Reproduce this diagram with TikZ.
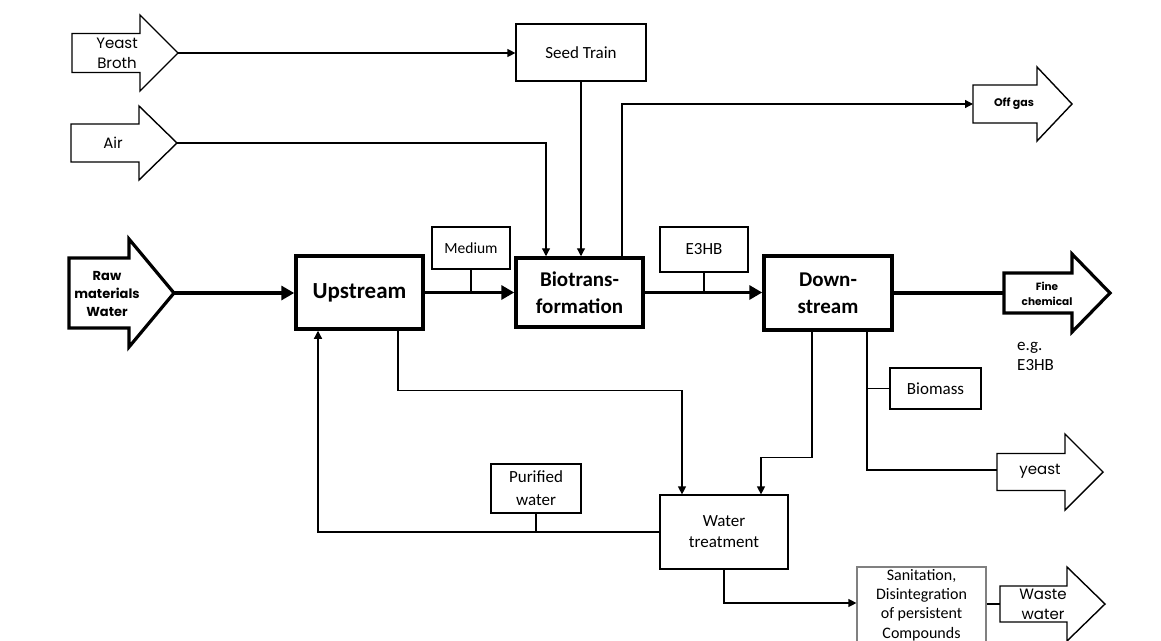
\documentclass[tikz,border=0pt]{standalone}
\usepackage{fontspec}
\setmainfont{Carlito}
\newfontfamily\gothic{Poppins}
\usetikzlibrary{arrows.meta}
\newcommand\blockarrow[8]{% name, style, xl, xh, xt, yc, bodyhalf, headhalf
  \draw[#2] (#3,#6-#7) -- (#4,#6-#7) -- (#4,#6-#8) -- (#5,#6) -- (#4,#6+#8) -- (#4,#6+#7) -- (#3,#6+#7) -- cycle;
  \coordinate (#1-w) at (#3,#6);
  \coordinate (#1-t) at (#5,#6);}
\begin{document}
\begin{tikzpicture}[x=1pt,y=-1pt,
  ln/.style={line width=1.2pt},
  lnthick/.style={line width=3.5pt},
  arr/.style={ln,-{Triangle[length=8pt,width=8pt]}},
  arrthick/.style={lnthick,-{Triangle[length=13pt,width=14pt]}},
  shp/.style={line width=1.4pt, line join=miter},
  shpthick/.style={line width=3.2pt, line join=miter},
  box/.style={draw, line width=1.2pt, inner sep=0pt, align=center, font=\fontsize{17}{21}\selectfont},
  bigbox/.style={draw, line width=3.5pt, inner sep=0pt, align=center, font=\bfseries\fontsize{21}{27}\selectfont},
  gtxt/.style={inner sep=0pt, align=center, font=\gothic\fontsize{15}{20}\selectfont},
  gbold/.style={inner sep=0pt, align=center, font=\gothic\bfseries\fontsize{13}{18}\selectfont},
]
\useasboundingbox (0,0) rectangle (1161,640);

% block arrows
\blockarrow{yb}{shp}{72}{140}{178}{53}{19.5}{38}
\blockarrow{air}{shp}{71}{139}{177}{143}{19}{37}
\blockarrow{off}{shp}{973}{1037}{1072}{104}{19}{37}
\blockarrow{raw}{shpthick}{69}{129}{174}{293}{35}{54}
\blockarrow{fc}{shpthick}{1004}{1072}{1110}{293}{20}{39}
\blockarrow{ye}{shp}{997}{1065}{1103}{472}{18.5}{38}
\blockarrow{ww}{shp}{1000}{1067}{1105}{604}{18}{37}

\node[gtxt] (ybt) at (117,53) {Yeast\\Broth};
\node[gtxt] (airt) at (113,143) {Air};
\node[gbold, font=\gothic\bfseries\fontsize{11}{14}\selectfont] (offt) at (1014,104) {Off gas};
\node[gbold] (rawt) at (107,294) {Raw\\materials\\Water};
\node[gbold, font=\gothic\bfseries\fontsize{10.5}{15}\selectfont] (fct) at (1047,294) {Fine\\chemical};
\node[gtxt] (yet) at (1040,471) {yeast};
\node[gtxt] (wwt) at (1043,604) {Waste\\water};

% boxes
\node[box, minimum width=130pt, minimum height=57pt] (seed) at (581,52.5) {Seed Train};
\node[bigbox, minimum width=127pt, minimum height=73pt, font=\bfseries\fontsize{23}{27}\selectfont] (up) at (359.5,292.5) {Upstream};
\node[box, minimum width=78pt, minimum height=42pt, font=\fontsize{15.5}{19}\selectfont] (med) at (471,248) {Medium};
\node[bigbox, minimum width=127pt, minimum height=69pt] (bio) at (579.5,292.5) {Biotrans-\\formation};
\node[box, minimum width=88pt, minimum height=45pt] (e3) at (704,249.5) {E3HB};
\node[bigbox, minimum width=128pt, minimum height=74pt] (down) at (828,293) {Down-\\stream};
\node[box, minimum width=91pt, minimum height=41pt] (bm) at (935.5,388.5) {Biomass};
\node[box, minimum width=90pt, minimum height=49pt, font=\fontsize{17}{23}\selectfont] (pur) at (536,488.5) {Purified\\water};
\node[box, minimum width=128pt, minimum height=74pt] (wt) at (724,532) {Water\\treatment};
\node[box, draw=black!50, minimum width=129pt, minimum height=76pt, font=\fontsize{16}{19.3}\selectfont] (san) at (921.5,605) {Sanitation,\\Disintegration\\of persistent\\Compounds};
\node[inner sep=0pt, align=left, anchor=west, font=\fontsize{17}{20}\selectfont] (eg) at (1017,356) {e.g.\\E3HB};

% connectors
\draw[arr] (yb-t) -- (seed.west |- yb-t);
\draw[arr] (air-t) -| ([xshift=-33.5pt]bio.north);
\draw[arr] (seed.south) -- (seed.south |- bio.north);
\draw[arr] ([xshift=42.5pt]bio.north) |- (off-w);
\draw[arrthick] (raw-t) -- (up.west |- raw-t);
\draw[arrthick] (up.east) -- (bio.west);
\draw[ln] (med.south) -- (med.south |- up.east);
\draw[arrthick] (bio.east) -- (down.west |- bio.east);
\draw[ln] (e3.south) -- (e3.south |- bio.east);
\draw[lnthick] (down.east |- fc-w) -- (fc-w);
\draw[arr] ([xshift=38.5pt]up.south) -- ++(0,60) -| ([xshift=-42pt]wt.north);
\draw[arr] ([xshift=-16pt]down.south) -- ++(0,126) -| ([xshift=37pt]wt.north);
\coordinate (dr) at ([xshift=39pt]down.south);
\draw[ln] (dr) |- ([yshift=2pt]ye-w);
\draw[ln] (bm.west) -- (bm.west -| dr);
\draw[arr] (wt.west) -| ([xshift=-41.5pt]up.south);
\draw[ln] (pur.south) -- (pur.south |- wt.west);
\draw[arr] (wt.south) |- ([yshift=2pt]san.west);
\draw[ln] (san.east |- ww-w) -- (ww-w);
\end{tikzpicture}
\end{document}
